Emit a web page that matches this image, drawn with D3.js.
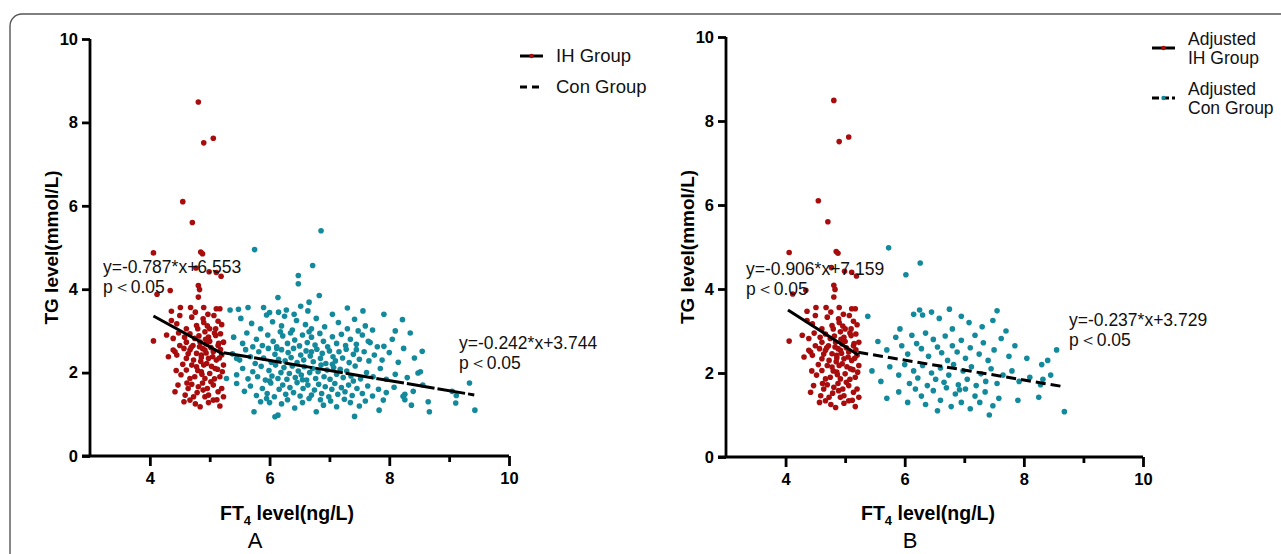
<!DOCTYPE html>
<html>
<head>
<meta charset="utf-8">
<script src="https://cdn.jsdelivr.net/npm/d3@7"></script>
<style>
  body { margin: 0; background: #fff; }
  svg { display: block; font-family: "Liberation Sans", Arial, sans-serif; }
</style>
</head>
<body>
<svg id="chart" width="1281" height="554"></svg>
<script>
// IH group points [FT4, TG] (same in both panels)
const ihPoints = [
  [4.81,8.49],[4.90,7.51],[5.06,7.62],[4.55,6.10],[4.71,5.60],[4.06,4.87],[4.85,4.89],[4.88,4.85],
  [4.77,4.51],[4.99,4.42],[5.11,4.40],[5.19,4.31],[4.81,4.09],[4.83,3.99],[4.34,3.97],[4.12,3.88],
  [4.81,3.81],[4.51,3.56],[4.36,3.47],[4.68,3.56],[4.90,3.56],[5.11,3.53],[5.17,3.53],[4.06,2.76],
  [4.50,3.37],[4.36,3.25],[4.70,3.33],[4.89,3.29],[5.07,3.37],[5.14,3.23],[5.20,3.15],[5.00,3.05],
  [4.78,3.13],[4.61,3.05],[4.45,3.17],[4.28,2.90],[4.39,2.82],[4.67,2.93],[4.75,2.82],[4.92,2.98],
  [4.98,2.85],[5.10,2.89],[5.18,2.93],[5.23,2.73],[5.14,2.65],[4.95,2.69],[4.84,2.73],[4.61,2.73],
  [4.50,2.65],[4.31,2.38],[4.42,2.50],[4.67,2.54],[4.78,2.46],[4.86,2.42],[4.92,2.54],[4.98,2.34],
  [5.06,2.50],[5.11,2.30],[5.20,2.42],[4.73,2.30],[4.61,2.34],[4.45,2.42],[4.39,2.54],[4.61,2.06],
  [4.70,2.18],[4.78,2.14],[4.86,2.02],[4.95,2.22],[5.00,1.98],[5.09,2.10],[5.17,1.90],[5.23,2.18],
  [4.92,1.86],[4.75,1.90],[4.47,1.70],[4.67,1.86],[4.42,1.54],[4.59,1.46],[4.64,1.62],[4.73,1.42],
  [4.81,1.66],[4.89,1.58],[4.98,1.46],[5.06,1.70],[5.14,1.54],[5.20,1.62],[5.23,1.42],[4.92,1.42],
  [4.57,1.30],[4.84,1.18],[5.06,1.34],[5.17,1.20],[4.67,1.34],[4.83,2.62],[4.88,2.58],[4.94,2.47],
  [5.02,2.60],[5.05,2.38],[4.85,2.27],[4.90,2.18],[5.03,2.15],[5.13,2.08],[4.80,2.05],[4.87,1.96],
  [5.08,1.85],[5.15,2.70],[5.00,2.75],[4.82,2.88],[4.96,3.12],[5.10,3.05],[4.72,2.65],[4.64,2.45],
  [4.55,2.20],[4.52,1.95],[4.58,2.85],[4.76,3.45],[4.97,3.40],[5.18,2.55],[5.21,2.02],[5.02,1.78],
  [4.88,1.75],[4.70,1.72],[4.79,1.52],[4.96,1.62],[5.12,1.35],[4.62,1.75],[4.44,2.05],[4.48,2.95],
  [4.98,1.28],[4.76,1.25],[4.86,2.36],[4.93,2.80],[5.16,2.35],[4.69,2.60],[4.57,2.58],[5.08,2.95],
  [4.80,3.05],[4.90,3.20]
];

// Con group points, panel A
const conPointsA = [
  [5.52,3.30],[5.70,3.18],[5.85,3.05],[6.05,3.22],[6.20,3.12],[6.25,3.35],[6.38,3.02],[6.45,3.25],
  [6.60,3.15],[6.70,3.05],[6.78,3.30],[6.92,3.10],[7.05,3.40],[7.15,3.20],[7.30,3.05],[7.42,3.28],
  [7.60,3.12],[7.72,3.02],[6.15,3.45],[5.95,3.38],[7.48,3.00],
  [5.40,2.85],[5.55,2.70],[5.62,2.95],[5.78,2.80],[5.88,2.65],[5.97,2.90],[6.06,2.75],[6.12,2.62],
  [6.22,2.88],[6.30,2.70],[6.35,2.95],[6.42,2.78],[6.50,2.64],[6.55,2.90],[6.63,2.72],[6.70,2.85],
  [6.76,2.66],[6.84,2.94],[6.90,2.75],[6.97,2.62],[7.05,2.86],[7.12,2.70],[7.20,2.92],[7.27,2.65],
  [7.35,2.80],[7.45,2.68],[7.55,2.90],[7.68,2.72],[7.80,2.62],[8.05,2.80],[8.35,2.95],[5.72,2.62],
  [6.18,2.98],[6.66,2.98],
  [5.38,2.45],[5.50,2.30],[5.60,2.55],[5.68,2.38],[5.76,2.22],[5.82,2.50],[5.90,2.35],[5.98,2.58],
  [6.03,2.25],[6.09,2.44],[6.15,2.32],[6.20,2.55],[6.26,2.28],[6.31,2.48],[6.36,2.36],[6.40,2.58],
  [6.46,2.24],[6.52,2.42],[6.57,2.30],[6.61,2.52],[6.68,2.40],[6.73,2.26],[6.79,2.56],[6.85,2.34],
  [6.88,2.46],[6.94,2.22],[7.00,2.52],[7.06,2.38],[7.10,2.28],[7.16,2.50],[7.22,2.35],[7.28,2.56],
  [7.33,2.24],[7.40,2.44],[7.50,2.32],[7.58,2.50],[7.66,2.28],[7.75,2.42],[7.88,2.30],[8.00,2.48],
  [8.15,2.25],[8.42,2.35],[5.45,2.34],[6.12,2.58],[6.70,2.50],[7.45,2.55],
  [5.45,1.95],[5.55,2.10],[5.64,1.85],[5.72,2.02],[5.80,1.90],[5.86,2.15],[5.93,1.82],[5.99,2.05],
  [6.04,1.92],[6.10,2.18],[6.14,1.86],[6.19,2.00],[6.24,2.12],[6.29,1.84],[6.33,1.98],[6.38,2.16],
  [6.43,1.88],[6.48,2.04],[6.53,1.94],[6.58,2.14],[6.62,1.82],[6.67,2.00],[6.72,2.10],[6.77,1.86],
  [6.81,2.02],[6.86,2.18],[6.91,1.90],[6.96,2.06],[7.01,1.84],[7.07,2.12],[7.12,1.96],[7.18,2.08],
  [7.23,1.88],[7.29,2.04],[7.36,1.92],[7.43,2.16],[7.52,1.85],[7.62,2.00],[7.73,1.90],[7.85,2.10],
  [7.95,1.84],[8.10,1.96],[8.30,1.88],[8.48,1.99],[8.52,2.02],[5.28,1.86],[6.00,1.80],[6.55,1.83],
  [7.05,2.20],[7.40,1.80],
  [5.45,1.74],[5.58,1.55],[5.68,1.68],[5.78,1.45],[5.88,1.62],[5.96,1.50],[6.02,1.75],[6.08,1.42],
  [6.16,1.60],[6.22,1.70],[6.27,1.48],[6.34,1.64],[6.40,1.52],[6.46,1.76],[6.51,1.44],[6.56,1.62],
  [6.64,1.70],[6.70,1.46],[6.75,1.58],[6.82,1.72],[6.87,1.50],[6.93,1.66],[6.99,1.42],[7.04,1.60],
  [7.09,1.74],[7.14,1.48],[7.20,1.64],[7.26,1.54],[7.32,1.70],[7.38,1.45],[7.46,1.62],[7.55,1.50],
  [7.64,1.68],[7.72,1.44],[7.82,1.60],[7.95,1.52],[8.08,1.65],[8.23,1.43],[8.26,1.48],[8.56,1.70],
  [8.40,1.55],[9.34,1.75],[9.12,1.45],[9.05,1.55],
  [5.74,1.06],[5.85,1.30],[6.09,0.94],[6.14,0.98],[6.20,1.25],[6.30,1.35],[6.42,1.15],[6.55,1.28],
  [6.66,1.38],[6.78,1.06],[6.90,1.22],[7.02,1.32],[7.12,1.18],[7.25,1.36],[7.42,0.95],[7.50,1.20],
  [7.60,1.32],[7.83,1.10],[7.90,1.34],[8.26,1.35],[8.37,1.22],[8.65,1.30],[8.67,1.06],[9.11,1.27],
  [9.43,1.10],[6.00,1.28],[5.95,1.38],[7.35,1.28],[6.85,1.35],
  [6.86,5.40],[5.75,4.95],[6.72,4.57],[6.48,4.33],[6.48,4.13],[6.14,3.80],[6.83,3.85],[6.66,3.69],
  [6.52,3.59],[7.56,3.48],[7.91,3.40],[8.22,3.27],[5.34,3.50],[5.48,3.52],[5.64,3.56],[5.90,3.56],
  [6.00,3.44],[6.28,3.50],[6.41,3.40],[6.64,3.48],[8.24,2.58],[7.91,2.63],[8.55,2.51],[7.30,3.55],
  [8.10,3.00],[7.65,2.75]
];

// Adjusted Con group points, panel B
const conPointsB = [
  [5.73,4.98],[6.26,4.62],[6.02,4.34],
  [5.38,3.35],[5.92,3.05],[6.15,3.40],[6.25,3.50],[6.30,3.38],[6.45,3.45],[6.58,3.30],[6.75,3.52],
  [6.95,3.35],[7.08,3.20],[7.30,3.10],[7.55,3.48],[7.48,3.25],[7.70,3.00],[6.80,3.05],
  [5.55,2.75],[5.70,2.55],[5.85,2.85],[5.95,2.65],[6.05,2.45],[6.12,2.90],[6.20,2.70],[6.28,2.58],
  [6.35,2.95],[6.40,2.40],[6.48,2.80],[6.55,2.62],[6.62,2.48],[6.68,2.88],[6.72,2.30],[6.80,2.65],
  [6.88,2.50],[6.95,2.78],[7.02,2.35],[7.10,2.60],[7.18,2.90],[7.25,2.45],[7.32,2.72],[7.40,2.30],
  [7.50,2.55],[7.62,2.82],[7.75,2.40],[7.85,2.65],[8.05,2.35],[8.30,2.20],[8.55,2.55],[8.40,2.30],
  [5.45,2.05],[5.60,1.80],[5.75,2.15],[5.90,1.95],[6.00,2.20],[6.08,1.75],[6.15,2.05],[6.22,1.88],
  [6.30,2.18],[6.38,1.70],[6.45,2.00],[6.52,1.85],[6.60,2.12],[6.66,1.78],[6.74,1.95],[6.82,2.20],
  [6.90,1.72],[6.98,2.05],[7.05,1.85],[7.12,2.15],[7.20,1.70],[7.28,1.98],[7.36,1.80],[7.45,2.10],
  [7.55,1.75],[7.65,1.95],[7.80,2.05],[7.92,1.80],[8.10,1.90],[8.28,1.72],[8.32,1.85],[8.45,1.95],
  [5.70,1.40],[5.90,1.55],[6.05,1.30],[6.18,1.62],[6.28,1.45],[6.35,1.25],[6.48,1.58],[6.60,1.35],
  [6.70,1.65],[6.78,1.20],[6.85,1.50],[6.95,1.30],[7.02,1.62],[7.10,1.15],[7.18,1.45],[7.26,1.30],
  [7.35,1.55],[7.42,1.00],[7.48,1.22],[7.58,1.40],[7.90,1.35],[8.25,1.42],[8.68,1.08],[6.92,1.60],
  [6.55,1.10]
];

// regression fits: [slope, intercept, xStart, xEnd]
const fitIhA = [-0.787, 6.553, 4.06, 5.23];
const fitConA = [-0.242, 3.744, 5.23, 9.42];
const fitIhB = [-0.906, 7.159, 4.04, 5.22];
const fitConB = [-0.237, 3.729, 5.22, 8.68];

const xTicks = [4, 6, 8, 10];
const xMinorTicks = [5, 7, 9];
const yTicks = [0, 2, 4, 6, 8, 10];

const RED = '#a80c0c';
const TEAL = '#138a9c';

const svg = d3.select('#chart');

// outer rounded frame
svg.append('rect')
  .attr('x', 10).attr('y', 14)
  .attr('width', 1300).attr('height', 600)
  .attr('rx', 12)
  .attr('fill', 'none')
  .attr('stroke', '#555')
  .attr('stroke-width', 1.4);

function drawPanel(cfg) {
  const x = d3.scaleLinear().domain([3, 10]).range([cfg.x0, cfg.x1]);
  const y = d3.scaleLinear().domain([0, 10]).range([cfg.y0, cfg.y1]);
  const g = svg.append('g');

  // points
  g.append('g').selectAll('circle')
    .data(ihPoints)
    .enter()
    .append('circle')
    .attr('cx', d => x(d[0]))
    .attr('cy', d => y(d[1]))
    .attr('r', 2.8)
    .attr('fill', RED);

  g.append('g').selectAll('circle')
    .data(cfg.con)
    .enter()
    .append('circle')
    .attr('cx', d => x(d[0]))
    .attr('cy', d => y(d[1]))
    .attr('r', 2.8)
    .attr('fill', TEAL);

  // fit lines
  const fitLine = (f, dash) => {
    g.append('line')
      .attr('x1', x(f[2])).attr('y1', y(f[0] * f[2] + f[1]))
      .attr('x2', x(f[3])).attr('y2', y(f[0] * f[3] + f[1]))
      .attr('stroke', '#000')
      .attr('stroke-width', 3)
      .attr('stroke-dasharray', dash);
  };
  fitLine(cfg.fitIh, null);
  fitLine(cfg.fitCon, cfg.conDash);

  // axes
  const yAxis = g.append('g')
    .attr('transform', `translate(${cfg.x0},0)`)
    .call(d3.axisLeft(y).tickValues(yTicks).tickSize(8).tickPadding(4).tickFormat(d3.format('d')));
  const xAxis = g.append('g')
    .attr('transform', `translate(0,${cfg.y0})`)
    .call(d3.axisBottom(x).tickValues(xTicks).tickSize(10).tickPadding(6).tickFormat(d3.format('d')));
  g.append('g')
    .attr('transform', `translate(0,${cfg.y0})`)
    .call(d3.axisBottom(x).tickValues(xMinorTicks).tickSize(6).tickFormat(''))
    .select('.domain').remove();

  [yAxis, xAxis].forEach(a => {
    a.select('.domain').attr('stroke', '#000').attr('stroke-width', 2.8);
    a.selectAll('.tick text')
      .attr('fill', '#000')
      .style('font-size', '16.5px')
      .style('font-weight', 'bold')
      .style('font-family', '"Liberation Sans", Arial, sans-serif');
  });
  g.selectAll('.tick line').attr('stroke', '#000').attr('stroke-width', 2.8);
  yAxis.select('.domain').attr('d', `M0,${cfg.y1}V${cfg.y0}`);
  xAxis.select('.domain').attr('d', `M${cfg.x0 - 8},0H${cfg.x1}`);

  // axis titles
  g.append('text')
    .attr('transform', `translate(${cfg.yTitleX},${(cfg.y0 + cfg.y1) / 2}) rotate(-90)`)
    .attr('text-anchor', 'middle')
    .style('font-size', '19px')
    .style('font-weight', 'bold')
    .text('TG level(mmol/L)');

  const xt = g.append('text')
    .attr('x', cfg.xTitleX)
    .attr('y', 520)
    .attr('text-anchor', 'middle')
    .style('font-size', '19.5px')
    .style('font-weight', 'bold');
  xt.append('tspan').text('FT');
  xt.append('tspan').attr('dy', 5).style('font-size', '13px').text('4');
  xt.append('tspan').attr('dy', -5).text(' level(ng/L)');

  g.append('text')
    .attr('x', cfg.letterX)
    .attr('y', 548)
    .attr('text-anchor', 'middle')
    .style('font-size', '22px')
    .text(cfg.letter);

  // equations
  cfg.eqs.forEach(e => {
    const t = g.append('text')
      .attr('x', e.x)
      .attr('y', e.y)
      .style('font-size', '17.5px')
      .attr('fill', '#111');
    t.append('tspan').attr('x', e.x).text(e.line1);
    t.append('tspan').attr('x', e.x).attr('dy', 20).text('p＜0.05');
  });

  // legend
  cfg.legend.forEach(l => {
    const lg = g.append('g');
    lg.append('line')
      .attr('x1', l.x).attr('x2', l.x + 23)
      .attr('y1', l.y).attr('y2', l.y)
      .attr('stroke', '#000')
      .attr('stroke-width', 3)
      .attr('stroke-dasharray', l.dash);
    if (l.dot) {
      lg.append('circle')
        .attr('cx', l.x + 11.5).attr('cy', l.y)
        .attr('r', 2.2)
        .attr('fill', l.dot);
    }
    const t = lg.append('text')
      .attr('x', l.x + 36)
      .attr('y', l.y + 6 - (l.lines.length - 1) * 9.5)
      .style('font-size', l.size)
      .attr('fill', '#111');
    l.lines.forEach((s, i) => {
      t.append('tspan').attr('x', l.x + 36).attr('dy', i === 0 ? 0 : 19).text(s);
    });
  });
}

drawPanel({
  x0: 90, x1: 509, y0: 456, y1: 39,
  con: conPointsA,
  fitIh: fitIhA, fitCon: fitConA, conDash: '28,3',
  yTitleX: 58, xTitleX: 287, letterX: 255, letter: 'A',
  eqs: [
    { x: 103, y: 273, line1: 'y=-0.787*x+6.553' },
    { x: 459, y: 349, line1: 'y=-0.242*x+3.744' }
  ],
  legend: [
    { x: 520, y: 56, dash: null, dot: RED, size: '18.5px', lines: ['IH Group'] },
    { x: 520, y: 87, dash: '7,5', dot: null, size: '18.5px', lines: ['Con Group'] }
  ]
});

drawPanel({
  x0: 726, x1: 1143, y0: 457, y1: 37,
  con: conPointsB,
  fitIh: fitIhB, fitCon: fitConB, conDash: '10,5',
  yTitleX: 694, xTitleX: 928, letterX: 910, letter: 'B',
  eqs: [
    { x: 746, y: 275, line1: 'y=-0.906*x+7.159' },
    { x: 1069, y: 326, line1: 'y=-0.237*x+3.729' }
  ],
  legend: [
    { x: 1152, y: 48, dash: null, dot: RED, size: '17.5px', lines: ['Adjusted', 'IH Group'] },
    { x: 1152, y: 98, dash: '7,3', dot: TEAL, size: '17.5px', lines: ['Adjusted', 'Con Group'] }
  ]
});
</script>
</body>
</html>
